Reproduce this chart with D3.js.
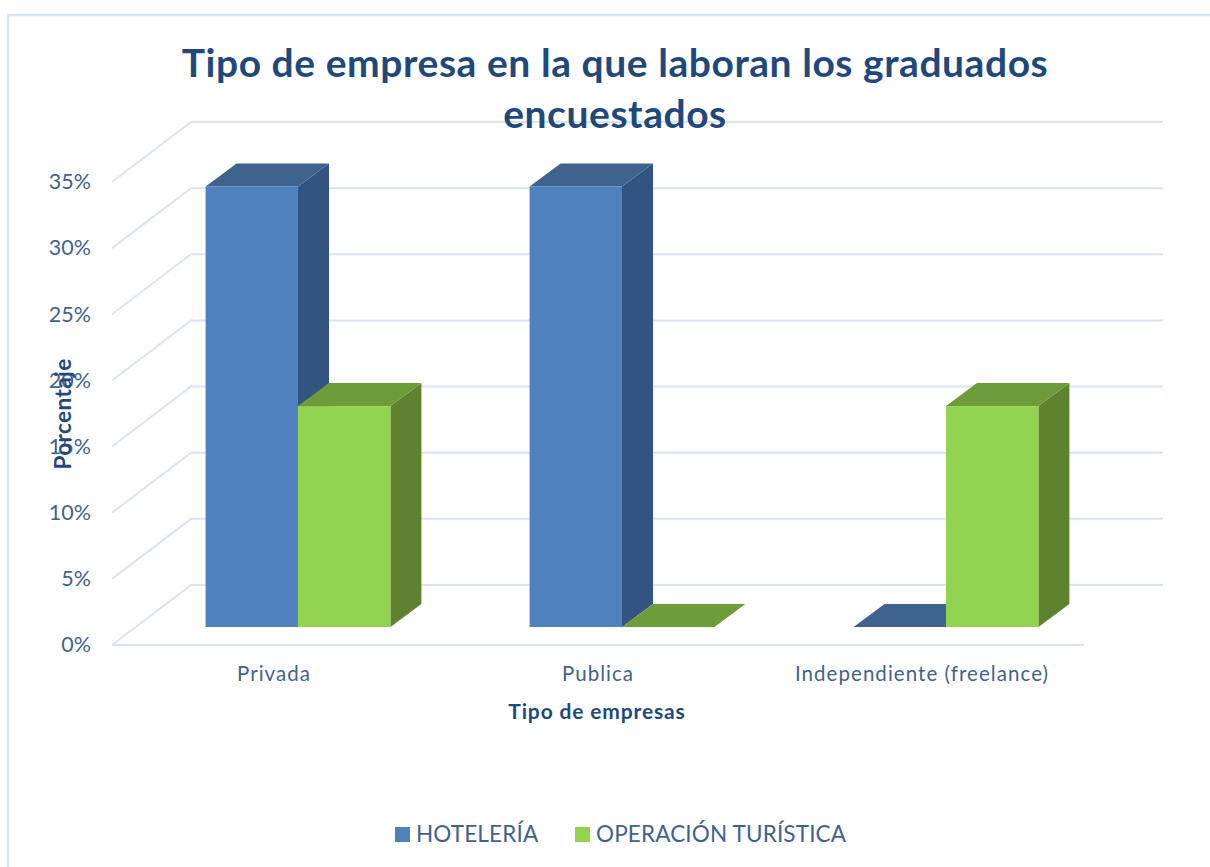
<!DOCTYPE html>
<html><head><meta charset="utf-8">
<style>html,body{margin:0;padding:0;background:#fff}svg{display:block}
text{font-family:Lato,"Noto Sans",sans-serif}</style>
<script src="https://cdn.jsdelivr.net/npm/d3@7/dist/d3.min.js"></script></head>
<body><svg id="c" width="1210" height="867"></svg>
<script>
const categories = ["Privada","Publica","Independiente (freelance)"];
const seriesNames = ["HOTELERÍA","OPERACIÓN TURÍSTICA"];
const hoteleria = [33.3,33.3,0];
const operacion = [16.7,0,16.7];
const yTicks = [0,5,10,15,20,25,30,35];
const titleLines = ["Tipo de empresa en la que laboran los graduados","encuestados"];
const xTitle = "Tipo de empresas";
const yTitle = "Porcentaje";

const W=1210,H=867;
const svg=d3.select("#c");
const gridCol="#d8e4f5", txt="#3f6391", head="#1f497d";
const fronts=["#4f81bd","#92d350"], tops=["#3e638f","#6f9c3b"], sides=["#335480","#5e8230"];

// frame
svg.append("path").attr("d",`M8,${H}V15H${W}`).attr("fill","none").attr("stroke",gridCol).attr("stroke-width",2.4);

const left=112,right=1084,floorY=645,wallDx=79,wallDy=-60,barDx=31,barDy=-23,barBase=627;
const x=d3.scaleBand().domain(categories).range([left,right]);
const y=d3.scaleLinear().domain([0,35]).range([floorY,floorY-463]);
const h=v=>floorY-y(v);

// gridlines
const grid=svg.append("g").attr("fill","none").attr("stroke",gridCol).attr("stroke-width",2);
grid.selectAll("path").data(yTicks).join("path").attr("d",t=>{
  const a=y(t);
  return `M${left},${a}L${left+wallDx},${a+wallDy}H${right+wallDx}`;
});
grid.append("path").attr("d",`M${left},${floorY}H${right}`);

// bars
const barW=92.4, groupOffset=93.6;
const g=svg.append("g");
categories.forEach((c,i)=>{
  [hoteleria,operacion].forEach((vals,s)=>{
    const x0=x(c)+groupOffset+s*barW, x1=x0+barW, v=vals[i];
    const yt=barBase-h(v);
    const b=g.append("g");
    if(v>0){
      b.append("path").attr("d",`M${x1},${barBase}L${x1+barDx},${barBase+barDy}V${yt+barDy}L${x1},${yt}Z`).attr("fill",sides[s]);
    }
    b.append("path").attr("d",`M${x0},${yt}L${x0+barDx},${yt+barDy}H${x1+barDx}L${x1},${yt}Z`).attr("fill",tops[s]);
    if(v>0){
      b.append("rect").attr("x",x0).attr("y",yt).attr("width",barW).attr("height",h(v)).attr("fill",fronts[s]);
    }
  });
});

// axes
const yAxis=d3.axisLeft(y).tickValues(yTicks).tickSize(0).tickPadding(0).tickFormat(d=>d+"%");
const ya=svg.append("g").attr("transform","translate(91,-1)").call(yAxis);
ya.select(".domain").remove();
ya.selectAll("text").attr("fill",txt).style("font-family","Lato").style("font-size","21.5px").attr("dy","0.36em");
const xAxis=d3.axisBottom(x).tickSize(0).tickPadding(0);
const xa=svg.append("g").attr("transform","translate(0,666)").call(xAxis);
xa.select(".domain").remove();
xa.selectAll("text").attr("fill",txt).style("font-family","Lato").style("font-size","20.5px").style("letter-spacing","1.05px").attr("dy","0.71em");

// titles
svg.append("g").selectAll("text").data(titleLines).join("text")
 .attr("x",615).attr("y",(d,i)=>77+i*51).attr("text-anchor","middle")
 .attr("fill",head).attr("font-weight",700).style("font-size","39px").style("letter-spacing","0.55px").text(d=>d);
svg.append("text").attr("x",597).attr("y",719).attr("text-anchor","middle").attr("fill",head)
 .attr("font-weight",700).style("font-size","21px").style("letter-spacing","0.85px").text(xTitle);
svg.append("text").attr("transform","translate(71,414) rotate(-90)").attr("text-anchor","middle").attr("fill",head)
 .attr("font-weight",700).style("font-size","22.5px").style("letter-spacing","0.4px").text(yTitle);

// legend
const legX=[395,575], legTx=[416,596];
seriesNames.forEach((n,i)=>{
  svg.append("rect").attr("x",legX[i]).attr("y",827).attr("width",15).attr("height",15).attr("fill",fronts[i]);
  svg.append("text").attr("x",legTx[i]).attr("y",842).attr("fill",txt).style("font-size","22.5px").style("letter-spacing","0.15px").text(n);
});
</script></body></html>
